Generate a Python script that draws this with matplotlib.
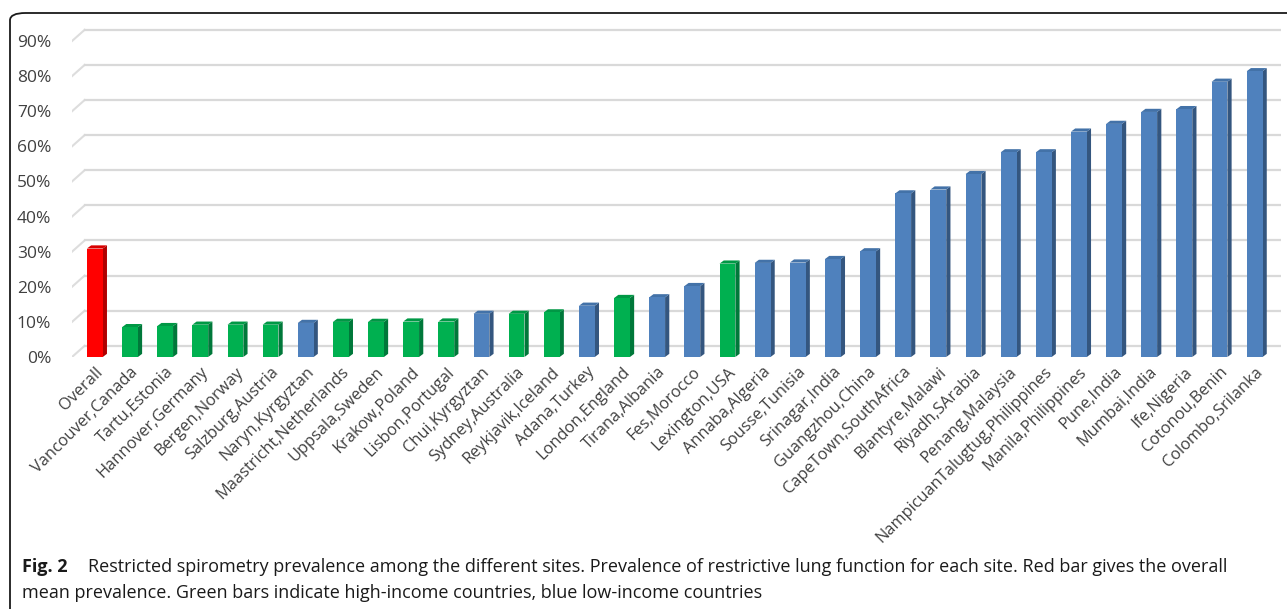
import numpy as np
import matplotlib.pyplot as plt
from matplotlib.patches import Polygon, FancyBboxPatch

# sites and restricted spirometry prevalence (%)
sites = ["Overall", "Vancouver,Canada", "Tartu,Estonia", "Hannover,Germany", "Bergen,Norway",
         "Salzburg,Austria", "Naryn,Kyrgyztan", "Maastricht,Netherlands", "Uppsala,Sweden",
         "Krakow,Poland", "Lisbon,Portugal", "Chui,Kyrgyztan", "Sydney,Australia",
         "Reykjavik,Iceland", "Adana,Turkey", "London,England", "Tirana,Albania", "Fes,Morocco",
         "Lexington,USA", "Annaba,Algeria", "Sousse,Tunisia", "Srinagar,India", "Guangzhou,China",
         "CapeTown,SouthAfrica", "Blantyre,Malawi", "Riyadh,SArabia", "Penang,Malaysia",
         "NampicuanTalugtug,Philippines", "Manila,Philippines", "Pune,India", "Mumbai,India",
         "Ife,Nigeria", "Cotonou,Benin", "Colombo,Srilanka"]
prevalence = [30.9, 8.5, 8.8, 9.2, 9.2, 9.2, 9.7, 10.0, 10.0, 10.1, 10.1, 12.3, 12.3, 12.7,
              14.6, 16.8, 17.0, 20.2, 26.6, 26.8, 26.9, 27.9, 30.1, 46.6, 47.7, 52.1, 58.3,
              58.3, 64.2, 66.4, 69.8, 70.6, 78.4, 81.4]
# o = overall, h = high income, l = low income
group = ["o", "h", "h", "h", "h", "h", "l", "h", "h", "h", "h", "l", "h", "h", "l", "h", "l",
         "l", "h", "l", "l", "l", "l", "l", "l", "l", "l", "l", "l", "l", "l", "l", "l", "l"]
yticks = [0, 10, 20, 30, 40, 50, 60, 70, 80, 90]

front = {"o": "#FF0000", "h": "#00B050", "l": "#4F81BD"}
side = {"o": "#B00000", "h": "#00783A", "l": "#34567F"}
top = {"o": "#D80000", "h": "#009845", "l": "#4372A8"}

fig = plt.figure(figsize=(12.87, 6.09), dpi=100)
ax = fig.add_axes([72 / 1287, (609 - 357) / 609, (1281 - 72) / 1287, 330 / 609])

x = np.arange(len(sites))
vals = np.array(prevalence)
w = 0.45
dx, dy = 0.12, 0.9
xl, xr = -0.65, len(sites) - 0.25
depth = 3.2

# back-plane gridlines with a slanted floor edge
for t in yticks:
    ax.plot([xl, xl + 0.36], [t, t + depth], color="#DDDDDD", lw=1.5, zorder=0)
    ax.plot([xl + 0.36, xr], [t + depth, t + depth], color="#D9D9D9", lw=1.6, zorder=0)

ax.bar(x, vals, width=w, color=[front[g] for g in group], zorder=3)
for xi, v, g in zip(x, vals, group):
    r = xi + w / 2
    l = xi - w / 2
    ax.add_patch(Polygon([(r, 0), (r + dx, dy), (r + dx, v + dy), (r, v)],
                         closed=True, fc=side[g], ec="none", zorder=2))
    ax.add_patch(Polygon([(l, v), (l + dx, v + dy), (r + dx, v + dy), (r, v)],
                         closed=True, fc=top[g], ec="none", zorder=2))

ax.set_xlim(xl, xr)
ax.set_ylim(0, 94)
ax.set_yticks(yticks)
ax.set_yticklabels([f"{t}%" for t in yticks], fontsize=12.5, color="#404040", family="Open Sans")
ax.set_xticks(x)
ax.set_xticklabels(sites, rotation=45, ha="right", rotation_mode="anchor",
                   fontsize=11.8, color="#404040", family="Open Sans")
ax.tick_params(axis="both", length=0)
ax.tick_params(axis="y", pad=15)
ax.tick_params(axis="x", pad=5)
for s in ax.spines.values():
    s.set_visible(False)

# rounded frame around the figure (cut at right and bottom)
frame = FancyBboxPatch((10 / 1287, -0.05), 1.2, (609 - 13) / 609 + 0.05,
                       boxstyle="round,pad=0,rounding_size=0.012",
                       transform=fig.transFigure, fill=False, ec="#1a1a1a", lw=1.3)
fig.patches.append(frame)

fig.text(22 / 1287, 1 - 567 / 609, "Fig. 2", fontsize=13, fontweight="bold", va="center",
         color="#1a1a1a", family="Open Sans")
fig.text(88 / 1287, 1 - 567 / 609,
         "Restricted spirometry prevalence among the different sites. Prevalence of restrictive "
         "lung function for each site. Red bar gives the overall",
         fontsize=13, va="center", color="#1a1a1a", family="Open Sans")
fig.text(22 / 1287, 1 - 593 / 609,
         "mean prevalence. Green bars indicate high-income countries, blue low-income countries",
         fontsize=13, va="center", color="#1a1a1a", family="Open Sans")

fig.savefig("out.png", dpi=100)
